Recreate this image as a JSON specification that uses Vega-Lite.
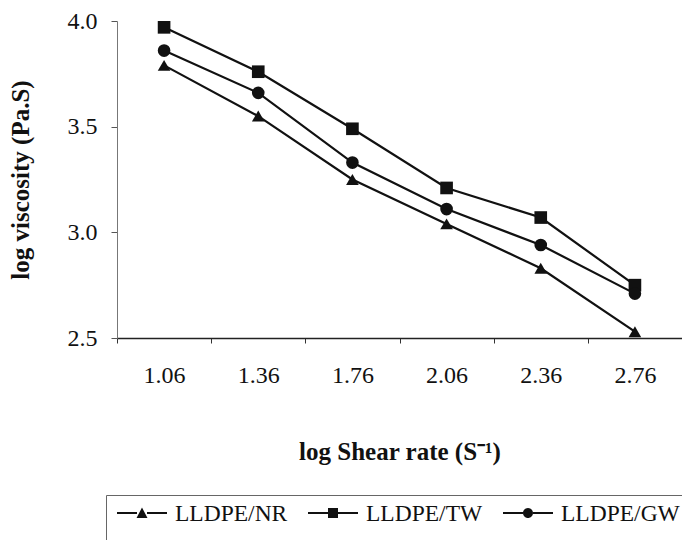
{
  "$schema": "https://vega.github.io/schema/vega-lite/v6.json",
  "autosize": {"type": "none"},
  "padding": {"left": 117, "top": 21, "right": 0, "bottom": 202},
  "width": 565,
  "height": 317,
  "background": "white",
  "config": {
    "view": {"stroke": null},
    "font": "Liberation Serif",
    "axis": {"labelFont": "Liberation Serif", "titleFont": "Liberation Serif", "labelColor": "#111", "titleColor": "#111", "grid": false},
    "legend": {"labelFont": "Liberation Serif"}
  },
  "data": {
    "values": [
      {"rate": "1.06", "series": "LLDPE/NR", "visc": 3.79},
      {"rate": "1.36", "series": "LLDPE/NR", "visc": 3.55},
      {"rate": "1.76", "series": "LLDPE/NR", "visc": 3.25},
      {"rate": "2.06", "series": "LLDPE/NR", "visc": 3.04},
      {"rate": "2.36", "series": "LLDPE/NR", "visc": 2.83},
      {"rate": "2.76", "series": "LLDPE/NR", "visc": 2.53},
      {"rate": "1.06", "series": "LLDPE/TW", "visc": 3.97},
      {"rate": "1.36", "series": "LLDPE/TW", "visc": 3.76},
      {"rate": "1.76", "series": "LLDPE/TW", "visc": 3.49},
      {"rate": "2.06", "series": "LLDPE/TW", "visc": 3.21},
      {"rate": "2.36", "series": "LLDPE/TW", "visc": 3.07},
      {"rate": "2.76", "series": "LLDPE/TW", "visc": 2.75},
      {"rate": "1.06", "series": "LLDPE/GW", "visc": 3.86},
      {"rate": "1.36", "series": "LLDPE/GW", "visc": 3.66},
      {"rate": "1.76", "series": "LLDPE/GW", "visc": 3.33},
      {"rate": "2.06", "series": "LLDPE/GW", "visc": 3.11},
      {"rate": "2.36", "series": "LLDPE/GW", "visc": 2.94},
      {"rate": "2.76", "series": "LLDPE/GW", "visc": 2.71}
    ]
  },
  "encoding": {
    "x": {
      "field": "rate", "type": "ordinal",
      "sort": ["1.06", "1.36", "1.76", "2.06", "2.36", "2.76"],
      "scale": {"type": "band", "paddingInner": 0, "paddingOuter": 0},
      "axis": {
        "title": "log Shear rate (S⁻¹)",
        "titleFont": "Liberation Serif",
        "titleFontSize": 25, "titleFontWeight": "bold", "titlePadding": 52,
        "labelFont": "Liberation Serif",
        "labelFontSize": 24, "labelAngle": 0, "labelPadding": 20,
        "tickBand": "extent", "tickSize": 5, "tickColor": "#333",
        "domainColor": "#222", "domainWidth": 1.5
      }
    },
    "y": {
      "field": "visc", "type": "quantitative",
      "scale": {"domain": [2.5, 4.0], "nice": false, "zero": false},
      "axis": {
        "title": "log viscosity (Pa.S)",
        "titleFont": "Liberation Serif",
        "titleFontSize": 25, "titleFontWeight": "bold", "titlePadding": 34,
        "values": [2.5, 3.0, 3.5, 4.0], "format": ".1f",
        "labelFont": "Liberation Serif",
        "labelFontSize": 24, "labelPadding": 14,
        "tickSize": 6, "tickColor": "#555",
        "domainColor": "#777", "domainWidth": 1
      }
    }
  },
  "layer": [
    {
      "mark": {"type": "line", "color": "#111", "strokeWidth": 2.2},
      "encoding": {"detail": {"field": "series"}}
    },
    {
      "mark": {"type": "point", "filled": true, "color": "#111", "opacity": 1, "size": 160},
      "encoding": {
        "shape": {
          "field": "series", "type": "nominal",
          "scale": {"domain": ["LLDPE/NR", "LLDPE/TW", "LLDPE/GW"], "range": ["triangle-up", "square", "circle"]},
          "legend": null
        }
      }
    },
    {
      "mark": {"type": "point", "filled": true, "color": "#111", "opacity": 1, "size": 0},
      "encoding": {
        "shape": {
          "field": "series", "type": "nominal",
          "scale": {
            "domain": ["LLDPE/NR", "LLDPE/TW", "LLDPE/GW"],
            "range": [
              "M-1,-0.56H-0.2V-0.48H-1Z M0.2,-0.56H1V-0.48H0.2Z M-0.22,-0.32L0.22,-0.32L0,-0.74Z M0,1.4",
              "M-1,-0.56H-0.2V-0.48H-1Z M0.2,-0.56H1V-0.48H0.2Z M-0.2,-0.72H0.2V-0.32H-0.2Z M0,1.4",
              "M-1,-0.56H-0.2V-0.48H-1Z M0.2,-0.56H1V-0.48H0.2Z M-0.2,-0.52A0.2,0.2 0 1,0 0.2,-0.52A0.2,0.2 0 1,0 -0.2,-0.52Z M0,1.4"
            ]
          },
          "legend": {
            "title": null,
            "orient": "none", "legendX": -11, "legendY": 474,
            "direction": "horizontal", "columns": 3,
            "padding": 6, "strokeColor": "#666",
            "symbolSize": 2500, "symbolOffset": 5, "symbolOpacity": 1,
            "symbolFillColor": "#111", "symbolStrokeColor": "#111", "symbolStrokeWidth": 0,
            "labelFont": "Liberation Serif",
            "labelFontSize": 23.5, "labelColor": "#111", "labelOffset": 8, "labelBaseline": "bottom",
            "columnPadding": 15
          }
        }
      }
    }
  ],
  "resolve": {"scale": {"shape": "independent"}}
}
